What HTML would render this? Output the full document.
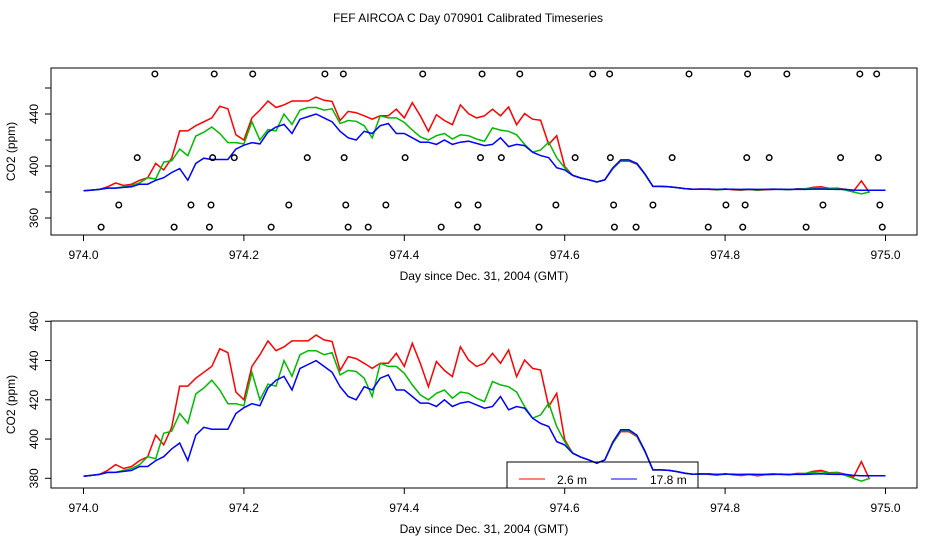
<!DOCTYPE html>
<html><head><meta charset="utf-8"><style>
body{margin:0;background:#fff}
svg{display:block;font-family:"Liberation Sans",sans-serif}
</style></head><body>
<svg id="c" width="936" height="540" viewBox="0 0 936 540">
<text x="468" y="22" text-anchor="middle" font-size="12">FEF AIRCOA C  Day 070901  Calibrated Timeseries</text>
</svg>
<script>
const days=[];for(let i=0;i<=98;i++)days.push(974+i*0.01);
const red=[381,381.5,382,384,387,385,386,389,391,402,397,406,427,427,431,434,437,446,444,424,420,437,443,450,445,447,450,450,450,453,
450.5,449.7,435,442,441,438.6,436,438.6,438.6,443.7,437,448.8,438.6,426.7,439.5,435,431.8,447,440.3,437,438.6,443.7,438.6,445.4,431.8,440.3,436,435.2,416.6,423.3,399.6,392.8,390.8,389.4,387.7,389.4,397.9,403.8,403.8,401.3,393.6,384.3,384.3,384,383.4,382.6,382.1,
382.3,382,381.6,382.3,381.8,381.4,382,381.2,381.8,382,382.2,381.8,382.5,382.4,383.6,384,382.8,383,382,380.5,388.5,379.5];
const green=[381,381.5,382,383,383,384,385,387,391,390,403,404,413,408,423,426,430,425,418,418,417,434,420,428,427,440,432,443,445,445,
443,444,432.7,435,434.4,431,421.7,438.6,437,437,433.5,427.6,422.5,420,423.3,425,420.8,424,423.3,420.8,419.1,429.3,427.6,426.7,424,416.6,410.6,412.3,418.3,406.4,398.7,392.8,390.8,389.4,387.7,389.4,397.9,404.2,404.2,401.6,393.6,384.3,384.3,384,383.4,382.6,382.1,
382.1,382.3,381.8,382,382.2,381.6,382.1,381.5,382,382.3,382,381.7,382.3,382.5,383,383.4,382.6,382.8,381.5,380,378.5,380];
const blue=[381,381.5,382,383,383,383.5,384,386,386,389,391,395,398,389,402,406,405,405,405,413,416,418,417,426,430,432,425,436,438,440,
437,434,426.7,421.7,420,426.7,425,431,432.7,425,425,421.7,418.3,418.3,416.6,420,416.6,418.3,419.1,417.4,415.7,416.6,421.7,414.9,416.6,415.7,410.6,408,406.4,398.7,397,392.8,390.8,389.4,387.7,389.4,398.5,404.7,404.7,402,394,384.3,384.3,384,383.4,382.6,382.1,
382.2,382.2,382,382.2,382,382,382.1,382,382,382.1,382,382,382.1,382,382.2,382.3,382.1,382,382,381.5,381.3,381.3,381.3,381.3];
const flagLevels=[470.8,406.4,370,353];
const flagDays1=[974.089,974.163,974.211,974.301,974.324,974.423,974.497,974.544,974.635,974.656,974.755,974.828,974.877,974.968,974.989];
const flagDays2=[974.067,974.161,974.188,974.279,974.325,974.401,974.495,974.521,974.613,974.657,974.734,974.827,974.855,974.944,974.991];
const flagDays3=[974.044,974.134,974.159,974.256,974.327,974.377,974.467,974.492,974.589,974.661,974.710,974.801,974.825,974.922,974.993];
const flagDays4=[974.022,974.113,974.157,974.234,974.330,974.355,974.446,974.491,974.568,974.662,974.689,974.779,974.822,974.901,974.996];
const xTicks=[974.0,974.2,974.4,974.6,974.8,975.0];
const yTicksTop=[360,380,400,420,440,460];
const yLabelsTop=[360,400,440];
const yTicksBot=[380,400,420,440,460];

const NS="http://www.w3.org/2000/svg";
const svg=document.getElementById('c');
function mk(t,a,p){const e=document.createElementNS(NS,t);for(const k in a)e.setAttribute(k,a[k]);(p||svg).appendChild(e);return e;}
const xs=d=>83.5+(d-974)*802;

function panel(name,top,bottom,yOf,yticks,ylabels,flags){
  const g=mk('g',{});
  
  
  const box=mk('rect',{x:51,y:top,width:866,height:bottom-top,fill:'none',stroke:'#000','stroke-width':1},g);
  
  
  xTicks.forEach(t=>{
    const l=mk('line',{x1:xs(t),x2:xs(t),y1:bottom,y2:bottom+6,stroke:'#000'},g);
    
    
    const tx=mk('text',{x:xs(t),y:bottom+24,'text-anchor':'middle','font-size':12},g);
    tx.textContent=t.toFixed(1);
    
    
  });
  const xt=mk('text',{x:484,y:bottom+45,'text-anchor':'middle','font-size':12},g);
  xt.textContent='Day since Dec. 31, 2004 (GMT)';
  
  
  yticks.forEach(v=>{
    const l=mk('line',{x1:45,x2:51,y1:yOf(v),y2:yOf(v),stroke:'#000'},g);
    
    
  });
  ylabels.forEach(v=>{
    const y=yOf(v);
    const tx=mk('text',{x:38,y:y,'text-anchor':'middle','font-size':12,transform:`rotate(-90 38 ${y})`},g);
    tx.textContent=v;
    
    
  });
  const cy=(top+bottom)/2;
  const yt=mk('text',{x:15,y:cy,'text-anchor':'middle','font-size':12,transform:`rotate(-90 15 ${cy})`},g);
  yt.textContent='CO2 (ppm)';
  
  
  const series=[[red,'#f00','series-2-6m'],[green,'#0b0','series-mid'],[blue,'#00f','series-17-8m']];
  series.forEach(([arr,c,n])=>{
    const pts=arr.map((v,i)=>xs(974+i*0.01).toFixed(1)+','+yOf(v).toFixed(1)).join(' ');
    const p=mk('polyline',{points:pts,fill:'none',stroke:c,'stroke-width':1.5},g);
    
    
  });
  if(flags){
    [flagDays1,flagDays2,flagDays3,flagDays4].forEach((arr,li)=>{
      arr.forEach(d=>{
        const c=mk('circle',{cx:xs(d),cy:yOf(flagLevels[li]),r:2.8,fill:'none',stroke:'#000','stroke-width':1.4},g);
        
        
      });
    });
  }
}
panel('top-panel',68,235,v=>166-(v-400)*1.3,yTicksTop,yLabelsTop,true);
panel('bottom-panel',321,488,v=>478.3-(v-380)*1.9625,yTicksBot,yTicksBot,false);

const lg=mk('g',{});


mk('rect',{x:507,y:462,width:191,height:26,fill:'none',stroke:'#000'},lg);
mk('line',{x1:519,x2:545,y1:479,y2:479,stroke:'#f00'},lg);
const t1=mk('text',{x:557,y:484,'font-size':12},lg);t1.textContent='2.6 m';


mk('line',{x1:611,x2:637,y1:479,y2:479,stroke:'#00f'},lg);
const t2=mk('text',{x:650,y:484,'font-size':12},lg);t2.textContent='17.8 m';


</script>
</body></html>
